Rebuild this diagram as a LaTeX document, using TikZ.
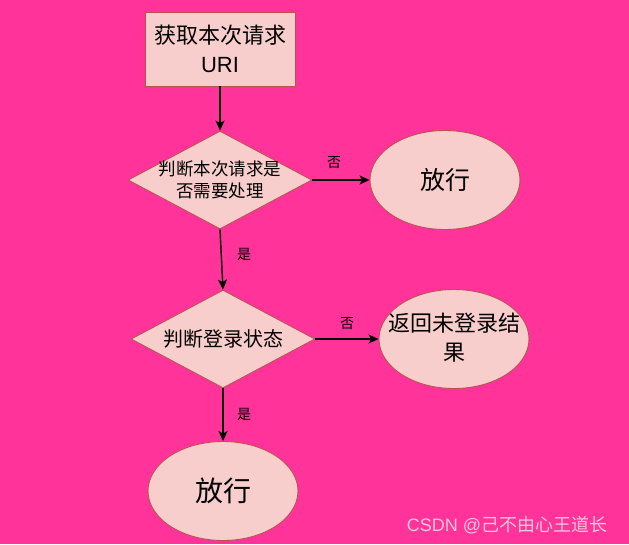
\documentclass[tikz,border=0pt]{standalone}
\usepackage{fontspec}
\setmainfont{Noto Sans CJK SC}
\newfontfamily\latinsans{Liberation Sans}
\usetikzlibrary{shapes.geometric,arrows.meta}
\definecolor{bgpink}{HTML}{FF3399}
\definecolor{boxfill}{HTML}{F8CECC}
\definecolor{boxline}{HTML}{B85450}
\definecolor{wmark}{HTML}{F4C6DC}
\tikzset{
  shapebase/.style={fill=boxfill,draw=boxline,line width=0.9pt,inner sep=0pt},
  procbox/.style={shapebase,rectangle,minimum width=150pt,minimum height=74pt},
  decbox/.style={shapebase,diamond,minimum width=184pt,minimum height=98pt},
  endbox/.style={shapebase,ellipse,minimum width=150pt,minimum height=99pt},
  txt/.style={align=center,inner sep=0pt},
  flow/.style={line width=1.4pt,-{Stealth[length=10pt,width=9pt,inset=2.5pt]}},
  edgelab/.style={font=\fontsize{14}{16}\selectfont,inner sep=0pt}
}
\begin{document}
\begin{tikzpicture}[x=1pt,y=-1pt]
\fill[bgpink] (0,0) rectangle (629,544);
\useasboundingbox (0,0) rectangle (629,544);

\node[procbox,txt,font=\fontsize{22}{29}\selectfont] (start) at (220,49) {获取本次请求\\{\latinsans URI}};

\node[decbox] (d1) at (220,180) {};
\node[txt,font=\fontsize{17.5}{22}\selectfont] (d1t) at (220,180) {判断本次请求是\\否需要处理};

\node[endbox,font=\fontsize{25}{30}\selectfont] (pass1) at (445,180) {放行};

\node[decbox] (d2) at (223,339) {};
\node[txt,font=\fontsize{20}{24}\selectfont] (d2t) at (223,339) {判断登录状态};

\node[endbox] (ret) at (454,339) {};
\node[txt,font=\fontsize{22}{29}\selectfont] (rett) at (454,338) {返回未登录结\\果};

\node[endbox,font=\fontsize{28}{32}\selectfont] (pass2) at (223,491) {放行};

\draw[flow] (start.south) -- (d1.north);
\draw[flow] (d1.east) -- (pass1.west);
\draw[flow] (d1.south) -- (d2.north);
\draw[flow] (d2.east) -- (ret.west);
\draw[flow] (d2.south) -- (pass2.north);

\node[edgelab] (l1) at (334,163) {否};
\node[edgelab] (l2) at (244,254) {是};
\node[edgelab] (l3) at (347,324) {否};
\node[edgelab] (l4) at (244,414) {是};

\node[font=\fontsize{18}{20}\selectfont,text=wmark,inner sep=0pt] (wm) at (507,525) {{\latinsans CSDN @}己不由心王道长};
\end{tikzpicture}
\end{document}
